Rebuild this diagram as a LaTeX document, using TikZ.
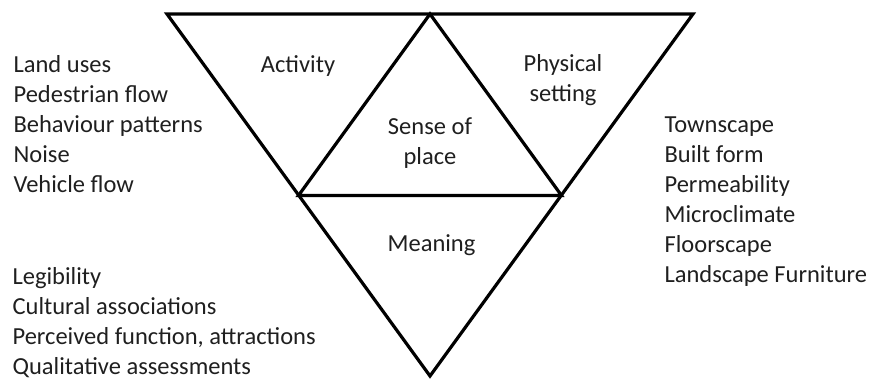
\documentclass[tikz,border=0pt]{standalone}
\usepackage{fontspec}
\setmainfont{Carlito}

\begin{document}
\begin{tikzpicture}[x=1pt, y=-1pt, line width=3.2pt,
    lbl/.style={font=\fontsize{24.5}{30}\selectfont, inner sep=0pt, text=black!88},
    lst/.style={lbl, align=left, anchor=base west}]
            \useasboundingbox (0,0) rectangle (869,378);
            % corners of the big triangle and the middle points of its sides
            \coordinate (tl) at (167, 14);
            \coordinate (tm) at (430, 14);
            \coordinate (tr) at (693, 14);
            \coordinate (ml) at (298.5, 195.5);
            \coordinate (mr) at (561.5, 195.5);
            \coordinate (bt) at (430, 376);
            \draw (tl) -- (tr) -- (bt) -- cycle;
            \draw (tm) -- (ml) -- (mr) -- cycle;
            % multi-line nodes sit on the baseline of their last line
            \node[lbl, anchor=base] (activity) at (298, 72) {Activity};
            \node[lbl, anchor=base, align=center] (physical) at (563, 101) {Physical\\setting};
            \node[lbl, anchor=base, align=center] (sense) at (430, 164) {Sense of\\place};
            \node[lbl, anchor=base] (meaning) at (431.5, 251.5) {Meaning};
            \node[lst] (activitylist) at (12, 192) {Land uses\\Pedestrian flow\\Behaviour patterns\\Noise\\Vehicle flow};
            \node[lst] (settinglist) at (663, 282) {Townscape\\Built form\\Permeability\\Microclimate\\Floorscape\\Landscape Furniture};
            \node[lst] (meaninglist) at (11, 374) {Legibility\\Cultural associations\\Perceived function, attractions\\Qualitative assessments};
        \end{tikzpicture}
\end{document}
